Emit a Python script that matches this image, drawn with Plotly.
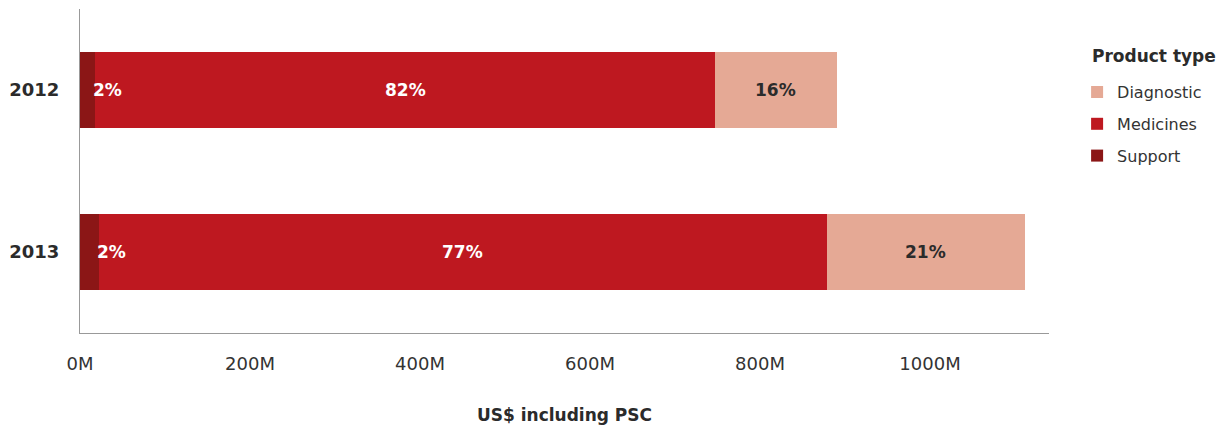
import plotly.graph_objects as go

# Spend by product type, US$ millions including PSC
years = ["2012", "2013"]
total_usd_m = [890, 1112]
support_pct = [2, 2]
medicines_pct = [82, 77]
diagnostic_pct = [16, 21]

series = [
    # name, shares, colour, legend position
    ("Support", support_pct, "#8B1616", 3),
    ("Medicines", medicines_pct, "#BE1820", 2),
    ("Diagnostic", diagnostic_pct, "#E5A995", 1),
]

FONT = "DejaVu Sans"
DARK = "#2b2b2b"

# 2012 on top
cat_order = years[::-1]

fig = go.Figure()
for name, pcts, color, rank in series:
    vals = [t * p / 100 for t, p in zip(total_usd_m, pcts)]
    fig.add_trace(go.Bar(
        name=name, y=years, x=vals, orientation="h",
        legendgroup=name, legendrank=rank,
        marker=dict(color=color, line=dict(width=0)),
        hoverinfo="x+name",
    ))

# Percentage labels placed from the same shares (y given as category index)
annotations = []
for i, yr in enumerate(years):
    yi = cat_order.index(yr)
    s = total_usd_m[i] * support_pct[i] / 100
    m = total_usd_m[i] * medicines_pct[i] / 100
    d = total_usd_m[i] * diagnostic_pct[i] / 100
    annotations.append(dict(x=s, y=yi, text=f"<b>{support_pct[i]}%</b>", showarrow=False,
                            xanchor="left", xshift=-4,
                            font=dict(color="white", size=17, family=FONT)))
    annotations.append(dict(x=s + m / 2, y=yi, text=f"<b>{medicines_pct[i]}%</b>", showarrow=False,
                            font=dict(color="white", size=17, family=FONT)))
    annotations.append(dict(x=s + m + d / 2, y=yi, text=f"<b>{diagnostic_pct[i]}%</b>", showarrow=False,
                            font=dict(color=DARK, size=17, family=FONT)))

# Legend heading
annotations.append(dict(
    xref="paper", yref="paper", x=1.0424, y=0.855, xanchor="left", yanchor="middle",
    text="<b>Product type</b>", showarrow=False,
    font=dict(size=17, color=DARK, family=FONT),
))

fig.update_layout(
    width=1221, height=431,
    margin=dict(l=80, r=172, t=9, b=98),
    barmode="stack", bargap=0.525,
    plot_bgcolor="white", paper_bgcolor="white",
    font=dict(family=FONT, size=16, color="#333333"),
    annotations=annotations,
    legend=dict(
        traceorder="grouped", x=1.029, xanchor="left", y=0.796, yanchor="top",
        font=dict(size=16, color="#333333"), itemwidth=30, tracegroupgap=8,
    ),
    xaxis=dict(
        range=[0, 1140], tickvals=[0, 200, 400, 600, 800, 1000],
        ticktext=["0M", "200M", "400M", "600M", "800M", "1000M"],
        showgrid=False, zeroline=False, showline=True, linecolor="#999999", linewidth=1,
        ticks="outside", ticklen=14, tickcolor="rgba(0,0,0,0)",
        tickfont=dict(size=18, color="#333333"),
        title=dict(text="<b>US$ including PSC</b>", standoff=36,
                   font=dict(size=17, color=DARK)),
    ),
    yaxis=dict(
        type="category", categoryorder="array", categoryarray=cat_order,
        range=[-0.5, 1.5],
        showgrid=False, zeroline=False, showline=True,
        linecolor="#999999", linewidth=1,
        ticks="outside", ticklen=16, tickcolor="rgba(0,0,0,0)",
        tickfont=dict(size=18, color=DARK, weight="bold"),
    ),
)

fig.write_html("out.html")
